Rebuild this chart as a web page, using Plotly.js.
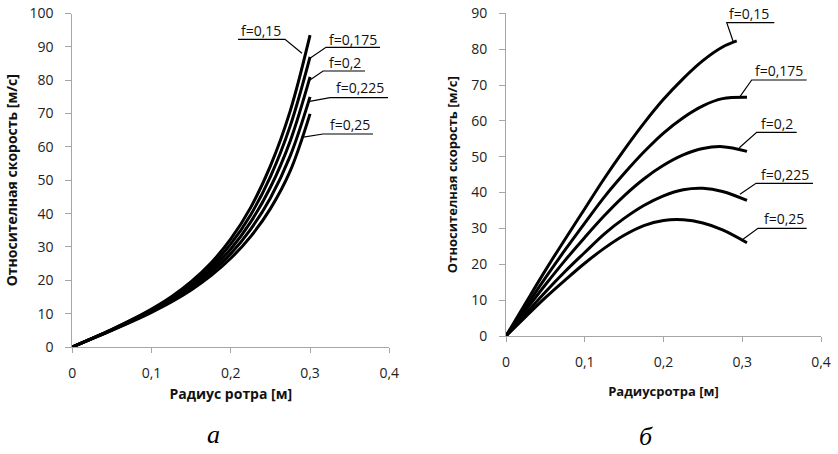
<!DOCTYPE html>
<html>
<head>
<meta charset="utf-8">
<script src="https://cdn.plot.ly/plotly-3.0.1.min.js"></script>
<style>html,body{margin:0;padding:0;background:#fff;}#chart{width:838px;height:454px;}</style>
</head>
<body>
<div id="chart"></div>
<script>
// ---- Data ----
const seriesNames = ["f=0,15", "f=0,175", "f=0,2", "f=0,225", "f=0,25"];

// Panel "а": relative speed vs rotor radius
const radiusA = [0, 0.025, 0.05, 0.075, 0.1, 0.125, 0.15, 0.175, 0.2, 0.225, 0.25, 0.275, 0.3];
const speedA_015  = [0, 2.6, 5.3, 8.2, 11.4, 15.1, 19.6, 25.2, 32.4, 41.8, 54.3, 70.8, 93.5];
const speedA_0175 = [0, 2.58, 5.23, 8.05, 11.15, 14.7, 19.0, 24.25, 30.9, 39.6, 51.1, 66.3, 87.0];
const speedA_02   = [0, 2.55, 5.15, 7.9, 10.9, 14.3, 18.35, 23.3, 29.4, 37.45, 47.9, 61.8, 81.0];
const speedA_0225 = [0, 2.53, 5.08, 7.75, 10.65, 13.9, 17.73, 22.35, 28.0, 35.3, 44.7, 57.3, 75.0];
const speedA_025  = [0, 2.5, 5.0, 7.6, 10.4, 13.5, 17.1, 21.4, 26.6, 33.1, 41.5, 52.8, 69.9];

// Panel "б"
const radiusB_015 = [0, 0.025, 0.05, 0.075, 0.1, 0.125, 0.15, 0.175, 0.2, 0.225, 0.25, 0.275, 0.293];
const radiusB     = [0, 0.025, 0.05, 0.075, 0.1, 0.125, 0.15, 0.175, 0.2, 0.225, 0.25, 0.275, 0.306];
const speedB_015  = [0, 9.2, 18.3, 27.0, 35.5, 44.0, 51.9, 59.3, 66.0, 71.8, 76.8, 80.6, 82.3];
const speedB_0175 = [0, 8.1, 16.2, 24.0, 31.5, 38.8, 45.3, 51.3, 56.6, 60.9, 64.2, 66.2, 66.6];
const speedB_02   = [0, 7.2, 14.3, 21.1, 27.5, 33.6, 39.1, 43.8, 47.6, 50.5, 52.3, 52.8, 51.5];
const speedB_0225 = [0, 6.2, 12.3, 18.0, 23.3, 28.5, 32.8, 36.4, 39.1, 40.8, 41.2, 40.3, 37.8];
const speedB_025  = [0, 5.4, 10.7, 15.6, 20.3, 24.5, 28.1, 30.8, 32.2, 32.4, 31.5, 29.6, 26.0];

// Axis ticks
const xTicks = [0, 0.1, 0.2, 0.3, 0.4];
const xTickText = ["0", "0,1", "0,2", "0,3", "0,4"];

// ---- Styling ----
const FONT = "Open Sans, Noto Sans, DejaVu Sans, sans-serif";
const lineStyle = {color: "#000", width: 3, shape: "spline", smoothing: 1};

const traces = [];
const aSeries = [speedA_015, speedA_0175, speedA_02, speedA_0225, speedA_025];
aSeries.forEach((ys, i) => traces.push({
  x: radiusA, y: ys, name: seriesNames[i], type: "scatter", mode: "lines",
  line: lineStyle, xaxis: "x", yaxis: "y", showlegend: false, hoverinfo: "x+y+name"
}));
const bSeries = [speedB_015, speedB_0175, speedB_02, speedB_0225, speedB_025];
const bRadius = [radiusB_015, radiusB, radiusB, radiusB, radiusB];
bSeries.forEach((ys, i) => traces.push({
  x: bRadius[i], y: ys, name: seriesNames[i], type: "scatter", mode: "lines",
  line: lineStyle, xaxis: "x2", yaxis: "y2", showlegend: false, hoverinfo: "x+y+name"
}));

// Label placement (data units of each panel): text centre and leader polyline
const labelsA = [
  {t: seriesNames[0], x: 0.2381, y: 94.9, p: [[0.2091, 92.26], [0.2684, 92.26], [0.2898, 88.07]]},
  {t: seriesNames[1], x: 0.3536, y: 92.35, p: [[0.3883, 89.87], [0.3201, 89.87], [0.2999, 86.57]]},
  {t: seriesNames[2], x: 0.3447, y: 85.16, p: [[0.3693, 82.76], [0.3164, 82.76], [0.2999, 80.06]]},
  {t: seriesNames[3], x: 0.3630, y: 77.81, p: [[0.3984, 74.75], [0.3252, 74.75], [0.2978, 73.55]]},
  {t: seriesNames[4], x: 0.3498, y: 66.57, p: [[0.3794, 63.87], [0.3164, 63.87], [0.2895, 62.88]]}
];
const labelsB = [
  {t: seriesNames[0], x: 0.3092, y: 90.0, p: [[0.3407, 87.38], [0.2803, 87.38], [0.2886, 82.08]]},
  {t: seriesNames[1], x: 0.3467, y: 74.05, p: [[0.3818, 71.4], [0.3120, 71.4], [0.2971, 66.74]]},
  {t: seriesNames[2], x: 0.3435, y: 59.13, p: [[0.3691, 56.81], [0.3183, 56.81], [0.2963, 52.52]]},
  {t: seriesNames[3], x: 0.3549, y: 45.18, p: [[0.3898, 42.59], [0.3175, 42.59], [0.2971, 39.52]]},
  {t: seriesNames[4], x: 0.3524, y: 32.91, p: [[0.3818, 30.04], [0.3200, 30.04], [0.2997, 26.77]]}
];

const annotations = [];
const shapes = [];
function addLabels(list, xr, yr) {
  list.forEach(l => {
    annotations.push({x: l.x, y: l.y, xref: xr, yref: yr, text: l.t, showarrow: false,
      xanchor: "center", yanchor: "middle", font: {family: FONT, size: 14, color: "#111"}});
    const path = l.p.map((pt, k) => (k === 0 ? "M" : "L") + pt[0] + "," + pt[1]).join(" ");
    shapes.push({type: "path", xref: xr, yref: yr, path: path, line: {color: "#000", width: 1.2}});
  });
}
addLabels(labelsA, "x", "y");
addLabels(labelsB, "x2", "y2");

// Panel captions
const captionFont = {family: "Liberation Serif, DejaVu Serif, serif", size: 26, color: "#000"};
annotations.push({xref: "paper", yref: "paper", x: 213 / 838, y: 3 / 454, text: "<i>а</i>",
  showarrow: false, xanchor: "center", yanchor: "bottom", font: captionFont});
annotations.push({xref: "paper", yref: "paper", x: 646 / 838, y: 1 / 454, text: "<i>б</i>",
  showarrow: false, xanchor: "center", yanchor: "bottom", font: captionFont});

const axisCommon = {
  showgrid: false, zeroline: false, showline: true, linecolor: "#a6a6a6", linewidth: 1,
  ticks: "outside", tickcolor: "#a6a6a6", ticklen: 5, tickwidth: 1,
  tickfont: {family: FONT, size: 14, color: "#222"}
};
const titleFontA = {family: FONT, size: 14, color: "#111"};
const titleFontB = {family: FONT, size: 13, color: "#111"};

const layout = {
  width: 838, height: 454,
  margin: {l: 0, r: 0, t: 0, b: 0},
  paper_bgcolor: "#fff", plot_bgcolor: "#fff",
  separators: ",.",
  showlegend: false,
  xaxis: Object.assign({}, axisCommon, {
    domain: [72.3 / 838, 389.3 / 838], range: [0, 0.4], anchor: "y",
    tickvals: xTicks, ticktext: xTickText, ticklabelstandoff: 8,
    title: {text: "<b>Радиус ротра [м]</b>", font: titleFontA, standoff: 8}
  }),
  yaxis: Object.assign({}, axisCommon, {
    domain: [1 - 347 / 454, 1 - 13.5 / 454], range: [0, 100], dtick: 10, anchor: "x",
    ticklen: 6, ticklabelstandoff: 9,
    title: {text: "<b>Относителная скорость [м/с]</b>", font: titleFontA, standoff: 8}
  }),
  xaxis2: Object.assign({}, axisCommon, {
    domain: [506 / 838, 821 / 838], range: [0, 0.4], anchor: "y2",
    tickvals: xTicks, ticktext: xTickText, ticklabelstandoff: 8,
    title: {text: "<b>Радиусротра [м]</b>", font: titleFontB, standoff: 17}
  }),
  yaxis2: Object.assign({}, axisCommon, {
    domain: [1 - 336 / 454, 1 - 13.3 / 454], range: [0, 90], dtick: 10, anchor: "x2",
    ticklen: 6, ticklabelstandoff: 9,
    title: {text: "<b>Относителная скорость [м/с]</b>", font: titleFontB, standoff: 10}
  }),
  annotations: annotations,
  shapes: shapes
};

Plotly.newPlot("chart", traces, layout, {staticPlot: true, displayModeBar: false});
</script>
</body>
</html>
